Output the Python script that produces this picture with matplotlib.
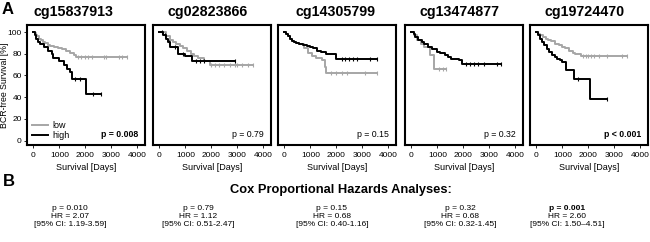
import numpy as np
import matplotlib
matplotlib.use('Agg')
import matplotlib.pyplot as plt
from matplotlib.lines import Line2D

plt.rcParams['font.family'] = ['Liberation Sans', 'DejaVu Sans']

#probes and test results
probes = ['cg15837913', 'cg02823866', 'cg14305799', 'cg13474877', 'cg19724470']
km_p = ['p = 0.008', 'p = 0.79', 'p = 0.15', 'p = 0.32', 'p < 0.001']
km_bold = [True, False, False, False, True]

cox_p = ['p = 0.010', 'p = 0.79', 'p = 0.15', 'p = 0.32', 'p = 0.001']
cox_hr = ['2.07', '1.12', '0.68', '0.68', '2.60']
cox_ci = ['1.19-3.59', '0.51-2.47', '0.40-1.16', '0.32-1.45', '1.50\u20134.51']

#Kaplan-Meier steps (days, survival %) and censor times
high_t = [[0, 50, 100, 180, 260, 400, 560, 700, 760, 1000, 1180, 1300, 1420, 1500, 2020],
          [0, 150, 250, 330, 420, 700, 1000, 1250],
          [0, 70, 130, 200, 280, 350, 450, 550, 700, 850, 1000, 1100, 1250, 1400, 1600, 2000],
          [0, 80, 150, 250, 400, 500, 650, 800, 970, 1100, 1290, 1400, 1540, 1850, 1950],
          [0, 60, 120, 200, 280, 400, 500, 600, 700, 790, 900, 990, 1120, 1440, 2070]]
high_s = [[100, 97, 94, 91, 89, 86, 83, 80, 76, 73, 70, 66, 63, 57, 43],
          [100, 97, 94, 91, 86, 80, 78, 73],
          [100, 98, 96, 94, 92, 91, 90, 89, 88, 87, 86, 85, 83, 82, 80, 75],
          [100, 98, 95, 93, 91, 89, 86, 84, 82, 81, 79, 77, 75.5, 74, 71],
          [100, 97, 94, 91, 88, 84, 82, 79, 77, 75.5, 74, 72.5, 65, 57, 38]]
high_c = [[1600, 1800, 2300, 2600],
          [100, 200, 350, 600, 900, 1400, 1550, 1700, 2900],
          [2200, 2350, 2500, 2650, 2800, 3300, 3550],
          [2100, 2250, 2400, 2550, 2800, 3300, 3450],
          [1600, 2700]]

low_t = [[0, 40, 90, 150, 220, 300, 380, 450, 550, 650, 800, 950, 1100, 1250, 1400, 1550, 1650],
         [0, 250, 400, 520, 650, 780, 900, 1050, 1200, 1350, 1500, 1700, 1950],
         [0, 70, 130, 200, 280, 350, 450, 550, 750, 900, 1050, 1200, 1450, 1580, 1620],
         [0, 100, 200, 350, 500, 700, 880],
         [0, 60, 150, 260, 350, 450, 550, 720, 850, 1000, 1110, 1250, 1400, 1500, 1700]]
low_s = [[100, 99, 97, 96, 94, 93, 91, 90, 88, 87, 86, 85, 84, 83, 81, 79, 77],
         [100, 96, 93, 91, 89, 87, 85, 83, 80, 78, 76, 73, 70],
         [100, 98, 96, 94, 92, 91, 90, 89, 85, 81, 78, 76, 74, 68, 62],
         [100, 97, 93, 89, 86, 79, 66],
         [100, 98, 97, 95, 94, 93, 92, 89, 88, 86, 85, 83, 81, 80, 77.5]]
low_c = [[1700, 1850, 2000, 2100, 2250, 2700, 2800, 3300, 3400, 3600],
         [2000, 2150, 2300, 2500, 2700, 2900, 3000, 3200, 3400, 3600],
         [1800, 2000, 2200, 2400, 3100, 3550],
         [1050, 1200, 1350],
         [1800, 1900, 2000, 2100, 2200, 2400, 2700, 3300, 3500]]

grey = '#a6a6a6'
W, H = 650, 242
fig = plt.figure(figsize=(6.5, 2.42), dpi=100)

#km plot with censor ticks
def km(ax, t, s, c, col):
    t = list(t) + [max(max(t), max(c))]
    s = list(s) + [s[-1]]
    ax.step(t, s, where='post', color=col, lw=1.4, zorder=3)
    idx = np.searchsorted(t, c, side='right') - 1
    ax.plot(c, np.array(s)[idx], ls='none', marker='|', ms=2.5, mew=0.8, color=col, zorder=4)

lefts = [27, 153, 278, 405, 530]
title_x = [73, 208, 336, 459, 585]
for i in range(5):
    ax = fig.add_axes([lefts[i] / W, 1 - 145 / H, 118 / W, 120 / H])
    km(ax, low_t[i], low_s[i], low_c[i], grey)
    km(ax, high_t[i], high_s[i], high_c[i], 'black')
    ax.set_xlim(-250, 4300)
    ax.set_ylim(-4, 106.5)
    ax.set_xticks([0, 1000, 2000, 3000, 4000])
    for sp in ax.spines.values():
        sp.set_linewidth(1.5)
    ax.tick_params(labelsize=6, length=2.5, width=0.6, pad=2.5)
    if i == 0:
        ax.set_yticks([0, 20, 40, 60, 80, 100])
        ax.tick_params(axis='y', pad=1.2)
        ax.set_ylabel('BCR-free Survival [%]', fontsize=6.3)
        ax.yaxis.set_label_coords(-0.155, 0.5)
        ax.legend(handles=[Line2D([], [], color=grey, lw=1.4), Line2D([], [], color='black', lw=1.4)],
                  labels=['low', 'high'], loc='lower left', frameon=False, fontsize=6.5,
                  handlelength=1.8, borderaxespad=0.1, labelspacing=0.15, handletextpad=0.5,
                  bbox_to_anchor=(0.0, 0.0))
    else:
        ax.set_yticks([])
    ax.set_xlabel('Survival [Days]', fontsize=6.5, labelpad=3)
    fig.text(title_x[i] / W, 1 - 12 / H, probes[i], fontsize=10.3, fontweight='bold',
             ha='center', va='center')
    ax.text(0.94, 0.05, km_p[i], transform=ax.transAxes, ha='right', va='bottom', fontsize=6.3,
            fontweight='bold' if km_bold[i] else 'normal')

fig.text(2 / W, 1 - 9 / H, 'A', fontsize=12, fontweight='bold', va='center', ha='left')
fig.text(3 / W, 1 - 181 / H, 'B', fontsize=12, fontweight='bold', va='center', ha='left')
fig.text(341 / W, 1 - 190 / H, 'Cox Proportional Hazards Analyses:', fontsize=9.3,
         fontweight='bold', ha='center', va='center')

cox_x = [70, 198, 332, 460, 567]
for i in range(5):
    w = 'bold' if i == 4 else 'normal'
    fig.text(cox_x[i] / W, 1 - 208 / H, cox_p[i], fontsize=6, ha='center', va='center', fontweight=w)
    fig.text(cox_x[i] / W, 1 - 216.5 / H, 'HR = ' + cox_hr[i], fontsize=6, ha='center', va='center')
    fig.text(cox_x[i] / W, 1 - 225 / H, '[95% CI: ' + cox_ci[i] + ']', fontsize=6, ha='center', va='center')

fig.savefig('out.png', dpi=100)
